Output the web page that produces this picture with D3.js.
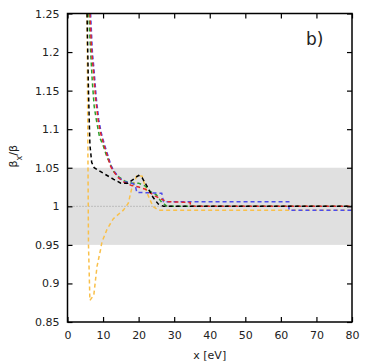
<!DOCTYPE html>
<html lang="en">
<head>
<meta charset="utf-8">
<style>
  body { margin: 0; background: #fff; }
  text { font-family: "DejaVu Sans", sans-serif; fill: #222; }
</style>
<script src="https://d3js.org/d3.v7.min.js"></script>
</head>
<body>
<svg width="374" height="364"></svg>
<script>
// data: [x in eV, beta_x/beta]
var blackSeries = [[5.5,1.25],[5.9,1.15],[6.3,1.08],[6.8,1.057],[7.5,1.05],[10,1.043],[13,1.035],[15,1.03],[17,1.03],[18.5,1.035],[20,1.04],[21,1.037],[22.5,1.025],[24,1.012],[25.5,1.003],[27,1.0],[80,1.0]];
var redSeries = [[6.3,1.25],[6.8,1.2],[7.2,1.18],[7.9,1.14],[8.6,1.112],[9.3,1.095],[10.2,1.08],[11.1,1.067],[12.1,1.052],[13,1.045],[14.3,1.037],[16,1.031],[18,1.027],[20,1.025],[22,1.022],[24,1.015],[26,1.01],[28,1.006],[34.5,1.005],[34.6,1.0],[80,1.0]];
var blueSeries = [[6.5,1.25],[7,1.2],[7.4,1.18],[8.1,1.14],[8.8,1.112],[9.5,1.095],[10.4,1.08],[11.3,1.067],[12.3,1.052],[13.2,1.045],[14.5,1.037],[16,1.032],[18,1.03],[19,1.028],[19.5,1.018],[26.5,1.017],[27,1.006],[62.2,1.006],[62.3,0.995],[80,0.995]];
var greenSeries = [[6,1.25],[6.5,1.2],[7,1.16],[7.5,1.13],[8,1.115],[9,1.09],[10.1,1.078],[11,1.065],[12,1.055],[13,1.045],[14.5,1.038],[16,1.033],[18,1.03],[20,1.03],[22,1.026],[23,1.02],[25,1.015],[26.5,1.005],[28,1.0],[80,1.0]];
var orangeSeries = [[5.5,1.25],[5.7,1.1],[5.9,0.95],[6.3,0.878],[7.4,0.885],[8.3,0.922],[9.3,0.944],[9.7,0.954],[11.1,0.97],[12.9,0.984],[15.7,0.995],[17.1,1.004],[18,1.022],[19.5,1.04],[21,1.039],[22.4,1.017],[24,1.0],[25.5,0.995],[80,0.995]];

var series = [
  {name: "orange", color: "#f9c04a", values: orangeSeries},
  {name: "green",  color: "#2ca02c", values: greenSeries},
  {name: "blue",   color: "#4b4bea", values: blueSeries},
  {name: "red",    color: "#e3262b", values: redSeries},
  {name: "black",  color: "#000000", values: blackSeries}
];

var xTicks = [0, 10, 20, 30, 40, 50, 60, 70, 80];
var yTicks = [0.85, 0.9, 0.95, 1, 1.05, 1.1, 1.15, 1.2, 1.25];
var band = [0.95, 1.05];

var svg = d3.select("svg");
var pL = 67.5, pR = 352, pT = 13.5, pB = 322;

var x = d3.scaleLinear().domain([0, 80]).range([pL, pR]);
var y = d3.scaleLinear().domain([0.85, 1.25]).range([pB, pT]);

svg.append("clipPath").attr("id", "clip")
  .append("rect")
    .attr("x", pL).attr("y", pT)
    .attr("width", pR - pL).attr("height", pB - pT);

// shaded tolerance band
svg.append("rect")
  .attr("x", pL)
  .attr("y", y(band[1]))
  .attr("width", pR - pL)
  .attr("height", y(band[0]) - y(band[1]))
  .attr("fill", "#e0e0e0");

// reference line at 1
svg.append("line")
  .attr("x1", pL).attr("x2", pR)
  .attr("y1", y(1)).attr("y2", y(1))
  .attr("stroke", "#999")
  .attr("stroke-width", 1)
  .attr("stroke-dasharray", "1,2");

var line = d3.line()
  .x(function(d) { return x(d[0]); })
  .y(function(d) { return y(d[1]); });

svg.append("g")
  .attr("clip-path", "url(#clip)")
  .selectAll("path")
  .data(series)
  .enter()
  .append("path")
    .attr("d", function(d) { return line(d.values); })
    .attr("fill", "none")
    .attr("stroke", function(d) { return d.color; })
    .attr("stroke-width", 1.5)
    .attr("stroke-dasharray", "4,3");

// axes, ticks pointing inward
var fmt = function(d) { return String(+d.toFixed(2)); };

svg.append("g")
  .attr("transform", "translate(0," + pB + ")")
  .call(d3.axisBottom(x).tickValues(xTicks).tickSizeInner(-5).tickSizeOuter(0).tickPadding(9))
  .call(function(g) { g.select(".domain").remove(); });

svg.append("g")
  .attr("transform", "translate(0," + pT + ")")
  .call(d3.axisTop(x).tickValues(xTicks).tickSizeInner(-5).tickSizeOuter(0).tickFormat(""))
  .call(function(g) { g.select(".domain").remove(); });

svg.append("g")
  .attr("transform", "translate(" + pL + ",0)")
  .call(d3.axisLeft(y).tickValues(yTicks).tickSizeInner(-5).tickSizeOuter(0).tickPadding(8).tickFormat(fmt))
  .call(function(g) { g.select(".domain").remove(); });

svg.append("g")
  .attr("transform", "translate(" + pR + ",0)")
  .call(d3.axisRight(y).tickValues(yTicks).tickSizeInner(-5).tickSizeOuter(0).tickFormat(""))
  .call(function(g) { g.select(".domain").remove(); });

svg.selectAll(".tick line").attr("stroke", "#000").attr("stroke-width", 1.2);
svg.selectAll(".tick text")
  .style("font-family", "DejaVu Sans, sans-serif")
  .style("font-size", "11px")
  .attr("fill", "#222");

// frame
svg.append("rect")
  .attr("x", pL).attr("y", pT)
  .attr("width", pR - pL).attr("height", pB - pT)
  .attr("fill", "none")
  .attr("stroke", "#000")
  .attr("stroke-width", 1.5);

// labels
svg.append("text")
  .attr("x", (pL + pR) / 2)
  .attr("y", 359)
  .attr("text-anchor", "middle")
  .style("font-size", "11px")
  .text("x [eV]");

var yl = svg.append("text")
  .attr("transform", "translate(17," + y(1.065) + ") rotate(-90)")
  .attr("text-anchor", "middle")
  .style("font-size", "11px");
yl.append("tspan").text("β");
yl.append("tspan").attr("baseline-shift", "sub").style("font-size", "8px").text("x");
yl.append("tspan").text("/β");

svg.append("text")
  .attr("x", 306)
  .attr("y", 45)
  .style("font-size", "17px")
  .attr("fill", "#000")
  .text("b)");
</script>
</body>
</html>
